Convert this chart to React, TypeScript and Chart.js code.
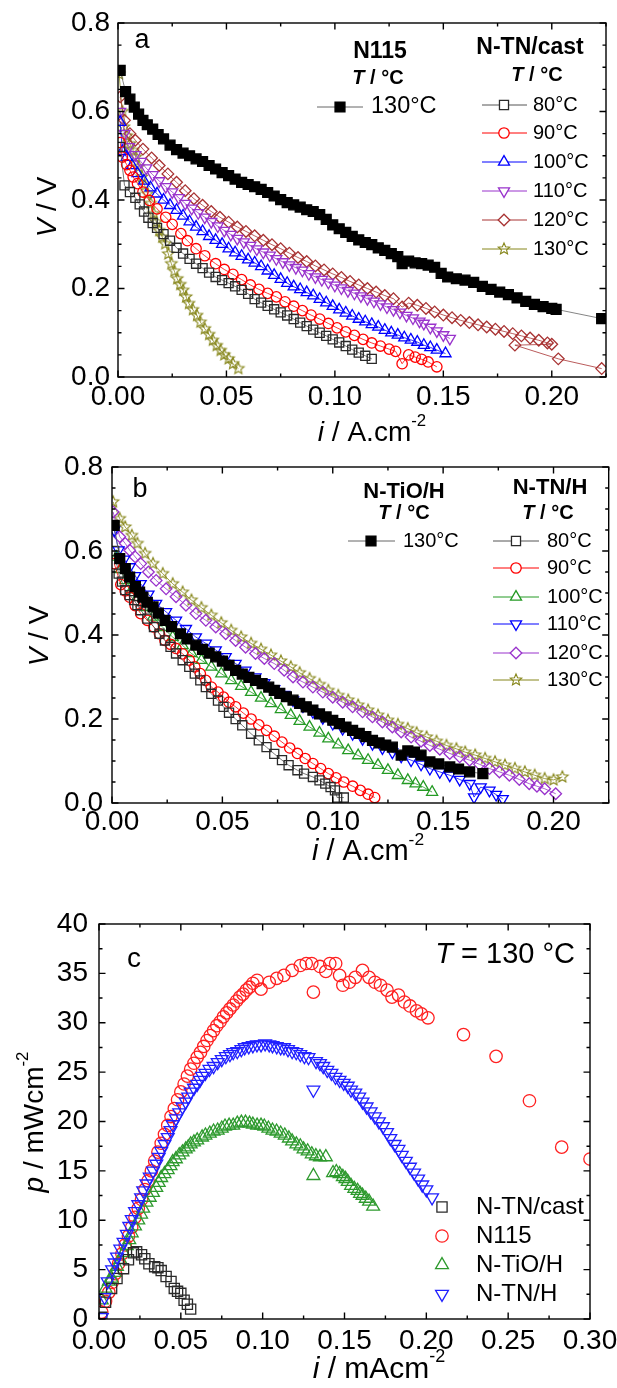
import React, { useEffect, useRef } from 'react';
import { Chart, registerables } from 'chart.js';

Chart.register(...registerables);

const FONT = "'Liberation Sans', Arial, Helvetica, sans-serif";

type P = [number, number][];

// ---------------- Panel a : N115 and N-TN/cast polarization ----------------
const A_N115_130: P = [[0.001,0.693],[0.0035,0.645],[0.0055,0.628],[0.0075,0.610],[0.0095,0.594],[0.0115,0.580],[0.0135,0.570],[0.016,0.560],[0.0185,0.548],[0.021,0.538],[0.024,0.524],[0.027,0.514],[0.030,0.506],[0.033,0.500],[0.036,0.493],[0.039,0.487],[0.042,0.478],[0.045,0.470],[0.048,0.462],[0.051,0.455],[0.054,0.447],[0.057,0.440],[0.060,0.435],[0.063,0.430],[0.066,0.424],[0.069,0.417],[0.072,0.409],[0.075,0.401],[0.078,0.394],[0.081,0.389],[0.084,0.384],[0.087,0.378],[0.090,0.374],[0.093,0.367],[0.096,0.356],[0.099,0.344],[0.102,0.335],[0.105,0.327],[0.108,0.318],[0.111,0.310],[0.114,0.304],[0.117,0.299],[0.120,0.292],[0.123,0.286],[0.126,0.279],[0.129,0.272],[0.131,0.256],[0.134,0.262],[0.137,0.258],[0.140,0.256],[0.143,0.253],[0.146,0.248],[0.149,0.234],[0.152,0.226],[0.156,0.222],[0.160,0.219],[0.164,0.214],[0.168,0.205],[0.172,0.198],[0.176,0.192],[0.180,0.186],[0.184,0.179],[0.188,0.171],[0.192,0.164],[0.196,0.159],[0.200,0.155],[0.202,0.153],[0.223,0.132]];
const A_CAST_80: P = [[0.001,0.52],[0.003,0.433],[0.0055,0.418],[0.008,0.405],[0.010,0.39],[0.012,0.374],[0.014,0.36],[0.016,0.348],[0.018,0.337],[0.021,0.323],[0.024,0.308],[0.027,0.292],[0.030,0.279],[0.033,0.267],[0.036,0.256],[0.039,0.246],[0.042,0.236],[0.045,0.226],[0.048,0.219],[0.051,0.212],[0.054,0.205],[0.057,0.197],[0.060,0.188],[0.063,0.176],[0.066,0.168],[0.069,0.161],[0.072,0.153],[0.075,0.146],[0.078,0.139],[0.081,0.131],[0.084,0.123],[0.087,0.115],[0.090,0.107],[0.093,0.100],[0.096,0.093],[0.099,0.085],[0.102,0.078],[0.105,0.070],[0.108,0.062],[0.111,0.055],[0.114,0.048],[0.117,0.041]];
const A_CAST_90: P = [[0.001,0.53],[0.002,0.497],[0.004,0.48],[0.0055,0.467],[0.007,0.452],[0.009,0.437],[0.0115,0.418],[0.0145,0.399],[0.018,0.380],[0.022,0.361],[0.025,0.345],[0.029,0.324],[0.032,0.308],[0.036,0.290],[0.040,0.274],[0.045,0.256],[0.049,0.243],[0.053,0.232],[0.057,0.220],[0.061,0.208],[0.065,0.198],[0.069,0.189],[0.073,0.181],[0.077,0.170],[0.081,0.160],[0.085,0.150],[0.089,0.140],[0.093,0.131],[0.097,0.121],[0.101,0.111],[0.105,0.102],[0.109,0.094],[0.113,0.085],[0.117,0.077],[0.121,0.070],[0.125,0.063],[0.128,0.058],[0.131,0.030],[0.134,0.050],[0.137,0.045],[0.140,0.040],[0.143,0.034],[0.147,0.023]];
const A_CAST_100: P = [[0.001,0.576],[0.002,0.51],[0.004,0.497],[0.0065,0.478],[0.009,0.46],[0.012,0.443],[0.015,0.428],[0.018,0.414],[0.021,0.400],[0.024,0.388],[0.027,0.377],[0.030,0.364],[0.033,0.351],[0.036,0.339],[0.039,0.329],[0.042,0.318],[0.045,0.309],[0.048,0.300],[0.051,0.290],[0.054,0.281],[0.057,0.273],[0.060,0.265],[0.063,0.258],[0.066,0.250],[0.069,0.240],[0.072,0.230],[0.075,0.221],[0.078,0.212],[0.081,0.204],[0.084,0.198],[0.087,0.191],[0.090,0.184],[0.093,0.176],[0.096,0.168],[0.099,0.160],[0.102,0.152],[0.105,0.145],[0.108,0.138],[0.111,0.131],[0.114,0.125],[0.117,0.119],[0.120,0.113],[0.123,0.106],[0.126,0.100],[0.129,0.095],[0.132,0.089],[0.135,0.084],[0.138,0.079],[0.141,0.072],[0.144,0.067],[0.147,0.061],[0.151,0.053]];
const A_CAST_110: P = [[0.001,0.60],[0.003,0.55],[0.005,0.52],[0.008,0.502],[0.0105,0.487],[0.013,0.472],[0.016,0.457],[0.019,0.443],[0.022,0.430],[0.025,0.418],[0.028,0.405],[0.031,0.392],[0.034,0.381],[0.037,0.371],[0.040,0.361],[0.043,0.351],[0.046,0.341],[0.049,0.331],[0.052,0.322],[0.055,0.313],[0.058,0.305],[0.061,0.297],[0.064,0.289],[0.067,0.282],[0.070,0.275],[0.073,0.267],[0.076,0.260],[0.079,0.253],[0.082,0.247],[0.085,0.241],[0.088,0.233],[0.091,0.226],[0.094,0.220],[0.097,0.214],[0.100,0.207],[0.103,0.201],[0.106,0.195],[0.109,0.189],[0.112,0.183],[0.115,0.177],[0.118,0.171],[0.121,0.165],[0.124,0.158],[0.127,0.152],[0.130,0.146],[0.133,0.139],[0.136,0.133],[0.139,0.126],[0.141,0.121],[0.144,0.112],[0.147,0.104],[0.150,0.095],[0.153,0.087]];
const A_CAST_120: P = [[0.001,0.633],[0.003,0.58],[0.0055,0.55],[0.008,0.535],[0.0115,0.515],[0.0155,0.495],[0.019,0.478],[0.023,0.459],[0.027,0.440],[0.031,0.421],[0.035,0.403],[0.039,0.388],[0.043,0.374],[0.047,0.361],[0.051,0.350],[0.055,0.339],[0.059,0.329],[0.063,0.319],[0.067,0.309],[0.071,0.299],[0.075,0.290],[0.079,0.280],[0.083,0.270],[0.087,0.261],[0.091,0.251],[0.095,0.242],[0.099,0.233],[0.103,0.225],[0.107,0.216],[0.111,0.208],[0.115,0.200],[0.119,0.192],[0.123,0.184],[0.127,0.177],[0.131,0.158],[0.134,0.167],[0.138,0.162],[0.142,0.155],[0.146,0.147],[0.150,0.140],[0.154,0.134],[0.158,0.128],[0.162,0.123],[0.166,0.118],[0.170,0.113],[0.174,0.108],[0.178,0.103],[0.182,0.098],[0.186,0.093],[0.190,0.088],[0.194,0.083],[0.198,0.077],[0.200,0.074],[0.183,0.072],[0.203,0.041],[0.223,0.019]];
const A_CAST_130: P = [[0.0005,0.685],[0.002,0.60],[0.0027,0.565],[0.004,0.545],[0.0055,0.527],[0.007,0.512],[0.0082,0.497],[0.0095,0.475],[0.011,0.452],[0.0123,0.433],[0.0136,0.414],[0.015,0.392],[0.0164,0.369],[0.0177,0.350],[0.019,0.331],[0.0204,0.316],[0.0218,0.301],[0.0232,0.278],[0.0246,0.256],[0.026,0.239],[0.0273,0.222],[0.0287,0.209],[0.030,0.196],[0.0314,0.181],[0.0327,0.166],[0.0345,0.152],[0.0364,0.139],[0.038,0.124],[0.040,0.109],[0.042,0.096],[0.0437,0.083],[0.0455,0.071],[0.0473,0.060],[0.049,0.050],[0.051,0.041],[0.053,0.030],[0.0555,0.019]];

// ---------------- Panel b : N-TiO/H and N-TN/H polarization ----------------
const B_TIO_130: P = [[0.001,0.661],[0.0035,0.582],[0.006,0.558],[0.008,0.538],[0.0106,0.515],[0.0125,0.502],[0.014,0.490],[0.016,0.478],[0.0186,0.467],[0.021,0.452],[0.024,0.435],[0.027,0.420],[0.031,0.403],[0.034,0.391],[0.038,0.376],[0.041,0.366],[0.044,0.357],[0.047,0.348],[0.050,0.338],[0.053,0.328],[0.056,0.316],[0.059,0.307],[0.062,0.299],[0.065,0.292],[0.068,0.284],[0.071,0.276],[0.0735,0.268],[0.076,0.261],[0.079,0.253],[0.082,0.245],[0.085,0.237],[0.088,0.229],[0.091,0.221],[0.094,0.212],[0.097,0.205],[0.100,0.197],[0.103,0.189],[0.106,0.181],[0.109,0.173],[0.112,0.166],[0.115,0.158],[0.118,0.149],[0.121,0.143],[0.124,0.138],[0.127,0.133],[0.131,0.114],[0.134,0.124],[0.137,0.121],[0.140,0.114],[0.144,0.098],[0.148,0.093],[0.153,0.086],[0.157,0.081],[0.162,0.074],[0.168,0.070]];
const B_TNH_80: P = [[0.001,0.60],[0.003,0.546],[0.0045,0.527],[0.006,0.507],[0.008,0.495],[0.010,0.483],[0.0115,0.471],[0.013,0.459],[0.016,0.439],[0.019,0.419],[0.0215,0.403],[0.024,0.387],[0.0265,0.372],[0.029,0.356],[0.032,0.340],[0.035,0.324],[0.0375,0.308],[0.040,0.292],[0.0425,0.276],[0.045,0.260],[0.048,0.244],[0.0505,0.229],[0.053,0.215],[0.056,0.200],[0.059,0.185],[0.063,0.165],[0.0665,0.149],[0.070,0.133],[0.0735,0.117],[0.077,0.102],[0.080,0.090],[0.084,0.078],[0.087,0.070],[0.091,0.062],[0.094,0.054],[0.0966,0.046],[0.099,0.038],[0.101,0.030],[0.102,0.013],[0.105,0.013]];
const B_TNH_90: P = [[0.001,0.57],[0.004,0.52],[0.006,0.505],[0.008,0.49],[0.0105,0.47],[0.013,0.451],[0.016,0.435],[0.019,0.419],[0.0215,0.403],[0.024,0.387],[0.0265,0.378],[0.029,0.368],[0.032,0.355],[0.035,0.340],[0.0375,0.324],[0.040,0.308],[0.0425,0.292],[0.045,0.276],[0.048,0.264],[0.0505,0.252],[0.053,0.240],[0.056,0.229],[0.0595,0.214],[0.063,0.200],[0.0665,0.186],[0.070,0.173],[0.0735,0.159],[0.077,0.145],[0.0805,0.131],[0.084,0.118],[0.0875,0.106],[0.091,0.094],[0.0945,0.082],[0.098,0.070],[0.1015,0.060],[0.105,0.050],[0.109,0.040],[0.1125,0.030],[0.116,0.021],[0.119,0.013]];
const B_TNH_100: P = [[0.002,0.586],[0.004,0.556],[0.006,0.530],[0.009,0.508],[0.0115,0.490],[0.015,0.466],[0.0186,0.443],[0.023,0.418],[0.0275,0.395],[0.032,0.375],[0.036,0.356],[0.0405,0.340],[0.045,0.324],[0.0495,0.308],[0.054,0.292],[0.0585,0.278],[0.063,0.264],[0.0675,0.250],[0.072,0.237],[0.0765,0.223],[0.081,0.209],[0.085,0.195],[0.0895,0.181],[0.094,0.167],[0.098,0.153],[0.1025,0.139],[0.107,0.125],[0.1115,0.113],[0.116,0.102],[0.1205,0.090],[0.125,0.078],[0.1295,0.066],[0.134,0.054],[0.1375,0.046],[0.141,0.038],[0.145,0.026]];
const B_TNH_110: P = [[0.001,0.65],[0.003,0.602],[0.0055,0.58],[0.008,0.562],[0.0105,0.541],[0.013,0.522],[0.0165,0.497],[0.020,0.475],[0.0245,0.455],[0.029,0.435],[0.0335,0.415],[0.038,0.395],[0.0425,0.380],[0.047,0.364],[0.0515,0.348],[0.056,0.332],[0.0605,0.316],[0.065,0.300],[0.069,0.286],[0.0735,0.272],[0.078,0.258],[0.082,0.245],[0.0865,0.231],[0.091,0.217],[0.0955,0.203],[0.100,0.189],[0.1045,0.177],[0.109,0.165],[0.1135,0.153],[0.118,0.141],[0.1225,0.131],[0.127,0.121],[0.131,0.111],[0.1355,0.102],[0.140,0.092],[0.144,0.082],[0.1485,0.074],[0.153,0.066],[0.1575,0.056],[0.162,0.046],[0.164,0.014],[0.167,0.038],[0.171,0.030],[0.174,0.020],[0.177,0.010]];
const B_TNH_120: P = [[0.0005,0.693],[0.0035,0.634],[0.006,0.618],[0.008,0.602],[0.0105,0.586],[0.013,0.570],[0.0165,0.550],[0.020,0.530],[0.0245,0.510],[0.029,0.491],[0.0335,0.471],[0.038,0.451],[0.0425,0.435],[0.047,0.419],[0.0515,0.403],[0.056,0.387],[0.0605,0.371],[0.065,0.356],[0.069,0.344],[0.0735,0.332],[0.078,0.316],[0.082,0.300],[0.0865,0.288],[0.091,0.276],[0.0955,0.264],[0.100,0.252],[0.1045,0.240],[0.109,0.229],[0.1135,0.217],[0.118,0.205],[0.1225,0.193],[0.127,0.181],[0.131,0.169],[0.1355,0.157],[0.140,0.147],[0.144,0.137],[0.1485,0.128],[0.153,0.118],[0.1575,0.110],[0.162,0.102],[0.1665,0.092],[0.171,0.082],[0.1755,0.074],[0.180,0.066],[0.1845,0.056],[0.189,0.046],[0.1925,0.040],[0.196,0.034],[0.201,0.022]];
const B_TNH_130: P = [[0.0005,0.717],[0.0035,0.677],[0.006,0.657],[0.009,0.637],[0.0115,0.618],[0.015,0.594],[0.0186,0.570],[0.023,0.546],[0.0275,0.522],[0.032,0.502],[0.036,0.483],[0.0405,0.465],[0.045,0.447],[0.0495,0.429],[0.054,0.411],[0.0585,0.395],[0.063,0.380],[0.0675,0.366],[0.072,0.352],[0.0765,0.338],[0.081,0.324],[0.085,0.310],[0.0895,0.296],[0.094,0.282],[0.098,0.268],[0.1025,0.256],[0.107,0.245],[0.1115,0.233],[0.116,0.221],[0.1205,0.209],[0.125,0.197],[0.1295,0.187],[0.134,0.177],[0.138,0.167],[0.1425,0.157],[0.147,0.147],[0.1515,0.137],[0.156,0.129],[0.160,0.121],[0.1645,0.114],[0.169,0.106],[0.1735,0.098],[0.178,0.090],[0.1825,0.082],[0.187,0.074],[0.1915,0.066],[0.196,0.058],[0.200,0.055],[0.204,0.062]];

// ---------------- Panel c : power density at 130 °C ----------------
const C_CAST: P = [[0.0017,0.17],[0.004,1.7],[0.0077,3.1],[0.011,4.1],[0.015,5.1],[0.018,6.0],[0.021,6.7],[0.023,6.8],[0.026,6.5],[0.028,6.1],[0.0305,5.6],[0.034,5.3],[0.036,5.2],[0.038,4.9],[0.041,4.3],[0.044,3.8],[0.046,3.1],[0.048,2.8],[0.050,2.6],[0.052,1.9],[0.054,1.5],[0.056,1.0]];
const C_N115: P = [[0.0017,0.7],[0.004,1.8],[0.006,2.7],[0.008,3.7],[0.010,4.6],[0.012,5.6],[0.014,6.6],[0.016,7.5],[0.018,8.4],[0.020,9.3],[0.022,10.3],[0.024,11.2],[0.026,12.1],[0.028,13.1],[0.030,14.0],[0.032,15.0],[0.034,16.0],[0.036,16.9],[0.038,17.8],[0.040,18.7],[0.042,19.6],[0.044,20.5],[0.046,21.3],[0.048,22.2],[0.050,23.0],[0.052,23.8],[0.054,24.6],[0.056,25.3],[0.058,25.9],[0.060,26.5],[0.062,27.0],[0.064,27.6],[0.066,28.2],[0.068,28.7],[0.070,29.2],[0.072,29.7],[0.074,30.1],[0.076,30.6],[0.078,31.0],[0.080,31.4],[0.082,31.8],[0.084,32.2],[0.086,32.6],[0.088,32.9],[0.090,33.3],[0.092,33.6],[0.094,34.0],[0.0966,34.3],[0.099,33.4],[0.104,34.1],[0.1086,34.5],[0.113,34.8],[0.118,35.3],[0.123,35.8],[0.1266,36.0],[0.130,36.0],[0.131,33.1],[0.135,35.7],[0.1386,35.2],[0.141,36.0],[0.1446,36.0],[0.147,34.8],[0.149,33.8],[0.153,34.1],[0.1566,34.6],[0.161,35.3],[0.165,34.6],[0.1686,34.1],[0.172,33.8],[0.176,33.3],[0.179,32.6],[0.183,32.8],[0.1866,32.1],[0.190,31.7],[0.194,31.2],[0.197,30.9],[0.201,30.5],[0.2227,28.8],[0.2426,26.6],[0.263,22.1],[0.2827,17.4],[0.30,16.2]];
const C_TIO: P = [[0.0017,1.9],[0.004,3.1],[0.006,3.8],[0.0077,4.1],[0.0095,4.7],[0.011,5.3],[0.013,6.0],[0.015,6.7],[0.017,7.4],[0.0185,8.0],[0.020,8.7],[0.022,9.4],[0.024,10.0],[0.0257,10.6],[0.027,11.2],[0.029,11.8],[0.031,12.3],[0.033,12.8],[0.035,13.3],[0.0365,13.8],[0.038,14.3],[0.040,14.7],[0.042,15.1],[0.0437,15.5],[0.045,15.9],[0.047,16.2],[0.049,16.6],[0.051,16.9],[0.053,17.2],[0.0545,17.4],[0.056,17.7],[0.058,17.9],[0.060,18.1],[0.063,18.4],[0.065,18.6],[0.0677,18.8],[0.070,19.0],[0.0725,19.1],[0.075,19.3],[0.077,19.5],[0.0795,19.6],[0.082,19.6],[0.0845,19.8],[0.087,19.9],[0.0895,19.9],[0.092,19.8],[0.094,19.7],[0.0966,19.6],[0.099,19.6],[0.101,19.5],[0.1035,19.3],[0.106,19.1],[0.1085,19.0],[0.111,18.8],[0.1135,18.6],[0.116,18.3],[0.118,18.0],[0.1206,17.7],[0.123,17.5],[0.125,17.2],[0.1275,17.0],[0.130,16.7],[0.131,14.5],[0.1325,16.5],[0.135,16.4],[0.1386,16.4],[0.143,14.8],[0.145,14.9],[0.147,14.7],[0.149,14.4],[0.1506,14.2],[0.152,13.9],[0.154,13.5],[0.156,13.2],[0.158,13.0],[0.1595,12.7],[0.161,12.5],[0.163,12.2],[0.165,11.9],[0.1675,11.4]];
const C_TNH: P = [[0.0017,0.17],[0.0034,2.2],[0.0053,3.8],[0.008,5.0],[0.0095,5.7],[0.011,6.3],[0.013,7.1],[0.015,7.8],[0.017,8.6],[0.0185,9.4],[0.020,10.1],[0.022,10.9],[0.024,11.6],[0.0257,12.3],[0.027,13.0],[0.029,13.7],[0.031,14.4],[0.033,15.0],[0.035,15.7],[0.0365,16.4],[0.038,17.0],[0.040,17.7],[0.042,18.4],[0.0437,19.1],[0.045,19.7],[0.047,20.3],[0.049,20.9],[0.051,21.5],[0.053,22.0],[0.0545,22.5],[0.056,23.0],[0.058,23.4],[0.060,23.8],[0.0617,24.2],[0.063,24.6],[0.065,24.9],[0.0675,25.3],[0.070,25.6],[0.0725,26.0],[0.075,26.3],[0.0775,26.6],[0.080,26.8],[0.082,27.0],[0.0845,27.1],[0.087,27.3],[0.089,27.5],[0.0915,27.6],[0.094,27.7],[0.0965,27.8],[0.099,27.8],[0.1015,27.9],[0.104,27.8],[0.106,27.7],[0.1086,27.6],[0.111,27.5],[0.113,27.5],[0.1155,27.3],[0.118,27.1],[0.1205,27.0],[0.123,26.8],[0.1255,26.6],[0.128,26.5],[0.131,23.2],[0.1326,26.1],[0.135,25.9],[0.137,25.6],[0.1395,25.2],[0.142,24.9],[0.1445,24.5],[0.147,24.2],[0.1495,23.9],[0.152,23.6],[0.154,23.2],[0.1566,22.9],[0.159,22.5],[0.161,22.0],[0.1635,21.5],[0.166,21.0],[0.1685,20.5],[0.171,20.0],[0.1735,19.5],[0.176,18.9],[0.178,18.3],[0.1806,17.7],[0.183,17.2],[0.185,16.6],[0.1875,16.0],[0.190,15.4],[0.1925,14.8],[0.195,14.2],[0.1975,13.6],[0.200,13.1],[0.2035,12.3]];

// ---------------- ticks / labels ----------------
const AB_X_TICKS = [0, 0.05, 0.1, 0.15, 0.2];
const AB_Y_TICKS = [0, 0.2, 0.4, 0.6, 0.8];
const C_X_TICKS = [0, 0.05, 0.1, 0.15, 0.2, 0.25, 0.3];
const C_Y_TICKS = [0, 5, 10, 15, 20, 25, 30, 35, 40];
const TEMPS = ['80°C', '90°C', '100°C', '110°C', '120°C', '130°C'];
const C_LABELS = ['N-TN/cast', 'N115', 'N-TiO/H', 'N-TN/H'];

// ---------------- styling ----------------
type Shape = 'rect' | 'circle' | 'triangle' | 'tridown' | 'diamond' | 'star';
interface Marker { shape: Shape; color: string; r: number; fill?: string; }
interface Series { data: P; marker: Marker; line: string; }

const GRAY = '#2a2a2a', RED = '#ff0000', BLUE = '#0000ff', PURPLE = '#9933cc', WINE = '#a83232', OLIVE = '#86861a', GREEN = '#249a24';

const seriesA: Series[] = [
  { data: A_N115_130, marker: { shape: 'rect', color: '#000', r: 7, fill: '#000' }, line: '#666' },
  { data: A_CAST_80, marker: { shape: 'rect', color: GRAY, r: 6.4 }, line: '#555' },
  { data: A_CAST_90, marker: { shape: 'circle', color: RED, r: 5.2 }, line: RED },
  { data: A_CAST_100, marker: { shape: 'triangle', color: BLUE, r: 6.4 }, line: BLUE },
  { data: A_CAST_110, marker: { shape: 'tridown', color: PURPLE, r: 6.4 }, line: PURPLE },
  { data: A_CAST_120, marker: { shape: 'diamond', color: WINE, r: 5.8 }, line: WINE },
  { data: A_CAST_130, marker: { shape: 'star', color: OLIVE, r: 6 }, line: OLIVE },
];
const seriesB: Series[] = [
  { data: B_TIO_130, marker: { shape: 'rect', color: '#000', r: 7, fill: '#000' }, line: '#666' },
  { data: B_TNH_80, marker: { shape: 'rect', color: GRAY, r: 6.4 }, line: '#555' },
  { data: B_TNH_90, marker: { shape: 'circle', color: RED, r: 5.2 }, line: RED },
  { data: B_TNH_100, marker: { shape: 'triangle', color: GREEN, r: 6.4 }, line: GREEN },
  { data: B_TNH_110, marker: { shape: 'tridown', color: BLUE, r: 6.4 }, line: BLUE },
  { data: B_TNH_120, marker: { shape: 'diamond', color: PURPLE, r: 5.8 }, line: PURPLE },
  { data: B_TNH_130, marker: { shape: 'star', color: OLIVE, r: 6 }, line: OLIVE },
];
const C_MARKERS: Marker[] = [
  { shape: 'rect', color: GRAY, r: 7.2 },
  { shape: 'circle', color: '#ff2020', r: 6.2 },
  { shape: 'triangle', color: '#2e9a2e', r: 7.4 },
  { shape: 'tridown', color: '#2020ff', r: 7.4 },
];
const seriesC: Series[] = [
  { data: C_CAST, marker: C_MARKERS[0], line: GRAY },
  { data: C_N115, marker: C_MARKERS[1], line: '#ff2020' },
  { data: C_TIO, marker: C_MARKERS[2], line: '#2e9a2e' },
  { data: C_TNH, marker: C_MARKERS[3], line: '#2020ff' },
];

// ---------------- drawing helpers ----------------
interface Seg { t: string; it?: boolean; bold?: boolean; sup?: boolean; }
interface TextItem { segs: Seg[]; x: number; y: number; size: number; align?: 'left' | 'center' | 'right'; rot?: boolean; }

const fontOf = (s: Seg, size: number) => `${s.it ? 'italic ' : ''}${s.bold ? 'bold ' : ''}${size}px ${FONT}`;

function drawRich(ctx: CanvasRenderingContext2D, item: TextItem) {
  const { segs, x, y, size, align = 'left', rot } = item;
  ctx.save();
  ctx.translate(x, y);
  if (rot) ctx.rotate(-Math.PI / 2);
  ctx.textBaseline = 'middle';
  ctx.textAlign = 'left';
  ctx.fillStyle = '#000';
  const sizes = segs.map((s) => (s.sup ? size * 0.6 : size));
  const widths = segs.map((s, i) => { ctx.font = fontOf(s, sizes[i]); return ctx.measureText(s.t).width; });
  const total = widths.reduce((a, b) => a + b, 0);
  let cx = align === 'center' ? -total / 2 : align === 'right' ? -total : 0;
  segs.forEach((s, i) => {
    ctx.font = fontOf(s, sizes[i]);
    ctx.fillText(s.t, cx, s.sup ? -size * 0.42 : 0);
    cx += widths[i];
  });
  ctx.restore();
}

function makeStar(color: string, R: number): HTMLCanvasElement {
  const size = Math.ceil(R * 2 + 4);
  const c = document.createElement('canvas');
  c.width = size; c.height = size;
  const g = c.getContext('2d')!;
  g.strokeStyle = color; g.lineWidth = 1.1;
  g.beginPath();
  for (let k = 0; k < 10; k++) {
    const r = k % 2 === 0 ? R : R * 0.45;
    const a = -Math.PI / 2 + (k * Math.PI) / 5;
    const px = size / 2 + r * Math.cos(a), py = size / 2 + r * Math.sin(a);
    if (k === 0) g.moveTo(px, py); else g.lineTo(px, py);
  }
  g.closePath(); g.stroke();
  return c;
}

function drawMarker(ctx: CanvasRenderingContext2D, m: Marker, x: number, y: number, star: HTMLCanvasElement) {
  if (m.shape === 'star') { ctx.drawImage(star, x - star.width / 2, y - star.height / 2); return; }
  ctx.save();
  ctx.lineWidth = 1.3; ctx.strokeStyle = m.color; ctx.fillStyle = m.fill || '#fff';
  const r = m.r;
  ctx.beginPath();
  if (m.shape === 'rect') { const s = r * Math.SQRT1_2; ctx.rect(x - s, y - s, 2 * s, 2 * s); }
  else if (m.shape === 'circle') ctx.arc(x, y, r, 0, Math.PI * 2);
  else if (m.shape === 'triangle') { ctx.moveTo(x, y - r); ctx.lineTo(x + r * 0.866, y + r / 2); ctx.lineTo(x - r * 0.866, y + r / 2); ctx.closePath(); }
  else if (m.shape === 'tridown') { ctx.moveTo(x, y + r); ctx.lineTo(x + r * 0.866, y - r / 2); ctx.lineTo(x - r * 0.866, y - r / 2); ctx.closePath(); }
  else if (m.shape === 'diamond') { ctx.moveTo(x, y - r); ctx.lineTo(x + r, y); ctx.lineTo(x, y + r); ctx.lineTo(x - r, y); ctx.closePath(); }
  ctx.fill(); ctx.stroke();
  ctx.restore();
}

interface LegendEntry { label: string; marker: Marker; y: number; mx: number; tx: number; size: number; line?: [number, number]; lineColor?: string; }

interface PanelDef {
  height: number; left: number; right: number; top: number; bottom: number;
  xMax: number; yMax: number; xTicks: number[]; yTicks: number[]; xDigits: number; yDigits: number;
  xMinor: number; xMajor: number; yMinor: number; yMajor: number;
  xPad: number; yPad: number; xFont: number; yFont: number;
  series: Series[]; showLine: boolean; clip: any;
  texts: TextItem[]; legend: LegendEntry[];
}

const T_HEAD: Seg[] = [{ t: 'T', it: true, bold: true }, { t: ' / °C', bold: true }];

const PANEL_A: PanelDef = {
  height: 450, left: 118, right: 606, top: 23, bottom: 377,
  xMax: 0.225, yMax: 0.8, xTicks: AB_X_TICKS, yTicks: AB_Y_TICKS, xDigits: 2, yDigits: 1,
  xMinor: 0.025, xMajor: 0.05, yMinor: 0.05, yMajor: 0.2, xPad: 3, yPad: 8, xFont: 28, yFont: 28,
  series: seriesA, showLine: true, clip: undefined,
  texts: [
    { segs: [{ t: 'a' }], x: 142, y: 41, size: 27, align: 'center' },
    { segs: [{ t: 'i', it: true }, { t: ' / A.cm' }, { t: '-2', sup: true }], x: 372, y: 433, size: 28, align: 'center' },
    { segs: [{ t: 'V', it: true }, { t: ' / V' }], x: 48, y: 207, size: 28, align: 'center', rot: true },
    { segs: [{ t: 'N115', bold: true }], x: 380, y: 52, size: 23, align: 'center' },
    { segs: T_HEAD, x: 378, y: 78, size: 20, align: 'center' },
    { segs: [{ t: 'N-TN/cast', bold: true }], x: 530, y: 48, size: 23, align: 'center' },
    { segs: T_HEAD, x: 537, y: 75, size: 20, align: 'center' },
  ],
  legend: [
    { label: '130°C', marker: seriesA[0].marker, y: 107, mx: 340, tx: 371, size: 23.5, line: [317, 363], lineColor: '#666' },
    ...[105, 133, 162, 191, 220, 249].map((y, i) => ({ label: TEMPS[i], marker: seriesA[i + 1].marker, y, mx: 504, tx: 533, size: 20, line: [482, 527] as [number, number], lineColor: seriesA[i + 1].line })),
  ],
};

const PANEL_B: PanelDef = {
  height: 420, left: 112, right: 612, top: 17, bottom: 353,
  xMax: 0.225, yMax: 0.8, xTicks: AB_X_TICKS, yTicks: AB_Y_TICKS, xDigits: 2, yDigits: 1,
  xMinor: 0.025, xMajor: 0.05, yMinor: 0.05, yMajor: 0.2, xPad: 2, yPad: 9, xFont: 28, yFont: 28,
  series: seriesB, showLine: true, clip: undefined,
  texts: [
    { segs: [{ t: 'b' }], x: 140, y: 39.5, size: 27, align: 'center' },
    { segs: [{ t: 'i', it: true }, { t: ' / A.cm' }, { t: '-2', sup: true }], x: 368, y: 402, size: 29, align: 'center' },
    { segs: [{ t: 'V', it: true }, { t: ' / V' }], x: 40, y: 186, size: 28, align: 'center', rot: true },
    { segs: [{ t: 'N-TiO/H', bold: true }], x: 404, y: 42, size: 22, align: 'center' },
    { segs: T_HEAD, x: 404, y: 63, size: 20, align: 'center' },
    { segs: [{ t: 'N-TN/H', bold: true }], x: 550, y: 38, size: 22, align: 'center' },
    { segs: T_HEAD, x: 548, y: 63, size: 20, align: 'center' },
  ],
  legend: [
    { label: '130°C', marker: seriesB[0].marker, y: 91, mx: 371, tx: 403, size: 20, line: [348, 395], lineColor: '#666' },
    ...[91, 118, 147, 174, 203, 230].map((y, i) => ({ label: TEMPS[i], marker: seriesB[i + 1].marker, y, mx: 516, tx: 547, size: 20, line: [493, 539] as [number, number], lineColor: seriesB[i + 1].line })),
  ],
};

const PANEL_C: PanelDef = {
  height: 518, left: 99, right: 590, top: 54, bottom: 449,
  xMax: 0.3, yMax: 40, xTicks: C_X_TICKS, yTicks: C_Y_TICKS, xDigits: 2, yDigits: 0,
  xMinor: 0.025, xMajor: 0.05, yMinor: 2.5, yMajor: 5, xPad: 5, yPad: 11, xFont: 28, yFont: 28,
  series: [seriesC[3], seriesC[0], seriesC[2], seriesC[1]], showLine: false, clip: 0,
  texts: [
    { segs: [{ t: 'c' }], x: 134, y: 89.5, size: 28, align: 'center' },
    { segs: [{ t: 'T', it: true }, { t: ' = 130 °C' }], x: 575, y: 85, size: 29, align: 'right' },
    { segs: [{ t: 'i', it: true }, { t: ' / mAcm' }, { t: '-2', sup: true }], x: 379, y: 500, size: 30, align: 'center' },
    { segs: [{ t: 'p', it: true }, { t: ' / mWcm' }, { t: '-2', sup: true }], x: 35, y: 252, size: 28, align: 'center', rot: true },
  ],
  legend: [337, 366, 395, 424].map((y, i) => ({ label: C_LABELS[i], marker: C_MARKERS[i], y, mx: 442, tx: 476, size: 24 })),
};

function pointProps(m: Marker, star: HTMLCanvasElement) {
  switch (m.shape) {
    case 'rect': return { pointStyle: 'rect', pointRadius: m.r, pointRotation: 0 };
    case 'circle': return { pointStyle: 'circle', pointRadius: m.r };
    case 'triangle': return { pointStyle: 'triangle', pointRadius: m.r, pointRotation: 0 };
    case 'tridown': return { pointStyle: 'triangle', pointRadius: m.r, pointRotation: 180 };
    case 'diamond': return { pointStyle: 'rectRot', pointRadius: m.r };
    default: return { pointStyle: star, pointRadius: m.r };
  }
}

function buildConfig(p: PanelDef, star: HTMLCanvasElement): any {
  const framePlugin = {
    id: 'frame',
    afterDatasetsDraw(chart: any) {
      const { ctx, chartArea: { left, right, top, bottom } } = chart;
      const xs = chart.scales.x, ys = chart.scales.y;
      ctx.save();
      ctx.strokeStyle = '#000';
      ctx.lineWidth = 1.4;
      ctx.beginPath();
      const nx = Math.round((xs.max - xs.min) / p.xMinor);
      for (let k = 0; k <= nx; k++) {
        const v = xs.min + k * p.xMinor;
        const q = v / p.xMajor;
        const L = Math.abs(q - Math.round(q)) < 1e-6 ? 6.5 : 3.5;
        const px = xs.getPixelForValue(v);
        ctx.moveTo(px, bottom); ctx.lineTo(px, bottom - L);
        ctx.moveTo(px, top); ctx.lineTo(px, top + L);
      }
      const ny = Math.round((ys.max - ys.min) / p.yMinor);
      for (let k = 0; k <= ny; k++) {
        const v = ys.min + k * p.yMinor;
        const q = v / p.yMajor;
        const L = Math.abs(q - Math.round(q)) < 1e-6 ? 6.5 : 3.5;
        const py = ys.getPixelForValue(v);
        ctx.moveTo(left, py); ctx.lineTo(left + L, py);
        ctx.moveTo(right, py); ctx.lineTo(right - L, py);
      }
      ctx.stroke();
      ctx.strokeRect(left, top, right - left, bottom - top);
      ctx.restore();
    },
  };
  const annotPlugin = {
    id: 'annot',
    afterDraw(chart: any) {
      const ctx: CanvasRenderingContext2D = chart.ctx;
      p.texts.forEach((t) => drawRich(ctx, t));
      p.legend.forEach((e) => {
        if (e.line) {
          ctx.save(); ctx.strokeStyle = e.lineColor || '#666'; ctx.lineWidth = 1;
          ctx.beginPath(); ctx.moveTo(e.line[0], e.y); ctx.lineTo(e.line[1], e.y); ctx.stroke(); ctx.restore();
        }
        drawMarker(ctx, e.marker, e.mx, e.y, star);
        drawRich(ctx, { segs: [{ t: e.label }], x: e.tx, y: e.y, size: e.size, align: 'left' });
      });
    },
  };
  return {
    type: 'scatter',
    data: {
      datasets: p.series.map((s) => ({
        data: s.data.map(([x, y]) => ({ x, y })),
        showLine: p.showLine,
        borderColor: s.line,
        borderWidth: 0.8,
        backgroundColor: 'rgba(0,0,0,0)',
        pointBackgroundColor: s.marker.fill || 'rgba(0,0,0,0)',
        pointBorderColor: s.marker.color,
        pointBorderWidth: 1.3,
        ...pointProps(s.marker, star),
        ...(p.clip === undefined ? {} : { clip: p.clip }),
      })),
    },
    options: {
      animation: false,
      responsive: false,
      maintainAspectRatio: false,
      events: [],
      layout: { padding: { top: p.top, right: 617 - p.right, left: 0, bottom: 0 } },
      plugins: { legend: { display: false }, tooltip: { enabled: false } },
      scales: {
        x: {
          type: 'linear', min: 0, max: p.xMax,
          grid: { display: false, drawTicks: false }, border: { display: false },
          ticks: { font: { family: FONT, size: p.xFont }, color: '#000', padding: p.xPad, maxRotation: 0, autoSkip: false,
            callback: (v: any) => Number(v).toFixed(p.xDigits) },
          afterBuildTicks: (s: any) => { s.ticks = p.xTicks.map((value) => ({ value })); },
          afterFit: (s: any) => { s.height = p.height - p.bottom; s.paddingLeft = 0; s.paddingRight = 0; },
        },
        y: {
          type: 'linear', min: 0, max: p.yMax,
          grid: { display: false, drawTicks: false }, border: { display: false },
          ticks: { font: { family: FONT, size: p.yFont }, color: '#000', padding: p.yPad, autoSkip: false,
            callback: (v: any) => Number(v).toFixed(p.yDigits) },
          afterBuildTicks: (s: any) => { s.ticks = p.yTicks.map((value) => ({ value })); },
          afterFit: (s: any) => { s.width = p.left; s.paddingTop = 0; s.paddingBottom = 0; },
        },
      },
    },
    plugins: [framePlugin, annotPlugin],
  };
}

export default function App() {
  const refA = useRef<HTMLCanvasElement>(null);
  const refB = useRef<HTMLCanvasElement>(null);
  const refC = useRef<HTMLCanvasElement>(null);

  useEffect(() => {
    const star = makeStar(OLIVE, 6);
    const charts = [
      new Chart(refA.current!, buildConfig(PANEL_A, star)),
      new Chart(refB.current!, buildConfig(PANEL_B, star)),
      new Chart(refC.current!, buildConfig(PANEL_C, star)),
    ];
    return () => charts.forEach((c) => c.destroy());
  }, []);

  const cs = (top: number, h: number): React.CSSProperties => ({ position: 'absolute', left: 0, top, width: 617, height: h });
  return (
    <div style={{ position: 'absolute', left: 0, top: 0, width: 617, height: 1388, background: '#fff', overflow: 'hidden' }}>
      <canvas ref={refA} width={617} height={450} style={cs(0, 450)} />
      <canvas ref={refB} width={617} height={420} style={cs(450, 420)} />
      <canvas ref={refC} width={617} height={518} style={cs(870, 518)} />
    </div>
  );
}
